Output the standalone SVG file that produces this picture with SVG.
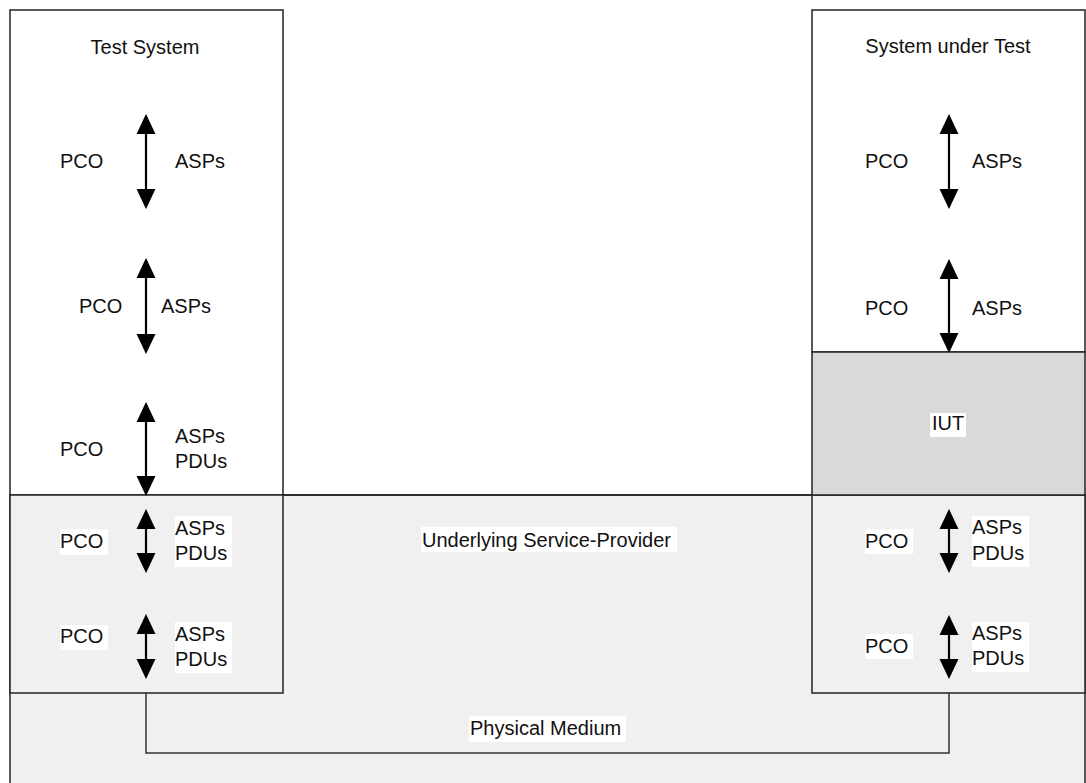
<svg xmlns="http://www.w3.org/2000/svg" width="1086" height="783" viewBox="0 0 1086 783">
<style>
.box{stroke:#222;stroke-width:1.5}
.t{font-family:"Liberation Sans",Arial,sans-serif;font-size:20px;fill:#111}
.m{text-anchor:middle}
.bg{fill:#fff}
.arr{stroke:#000;stroke-width:2.2;fill:none;marker-start:url(#ah);marker-end:url(#ah)}
.con{stroke:#333;stroke-width:1.5;fill:none}
</style>
<defs>
<marker id="ah" markerUnits="userSpaceOnUse" markerWidth="20" markerHeight="20" viewBox="0 0 18 17" refX="8" refY="8.5" orient="auto-start-reverse">
<path d="M0,0 L18,8.5 L0,17 z" fill="#000"/>
</marker>
</defs>
<rect width="1086" height="783" fill="#fff"/>
<g id="physical-medium">
<rect class="box" x="10" y="495" width="1075" height="300" fill="#f0f0f0"/>
<rect class="bg" x="469" y="716" width="157" height="26"/>
<text class="t" x="470" y="735">Physical Medium</text>
</g>
<g id="underlying-service-provider">
<line class="box" x1="283" y1="495" x2="812" y2="495"/>
<rect class="bg" x="421" y="527" width="256" height="25"/>
<text class="t" x="422" y="547">Underlying Service-Provider</text>
</g>
<g id="test-system">
<rect class="box" x="10" y="10" width="273" height="485" fill="#fff"/>
<rect class="box" x="10" y="495" width="273" height="198" fill="#f0f0f0"/>
<text class="t m" x="145" y="54">Test System</text>
<line class="arr" x1="146" y1="125" x2="146" y2="198"/>
<text class="t" x="60" y="168">PCO</text>
<text class="t" x="175" y="168">ASPs</text>
<line class="arr" x1="146" y1="269" x2="146" y2="343"/>
<text class="t" x="79" y="313">PCO</text>
<text class="t" x="161" y="313">ASPs</text>
<line class="arr" x1="146" y1="413" x2="146" y2="485"/>
<text class="t" x="60" y="456">PCO</text>
<text class="t" x="175" y="443">ASPs</text>
<text class="t" x="175" y="468">PDUs</text>
<line class="arr" x1="146" y1="520" x2="146" y2="562"/>
<rect class="bg" x="60" y="529" width="48" height="26"/>
<text class="t" x="60" y="548">PCO</text>
<rect class="bg" x="175" y="516" width="57" height="51"/>
<text class="t" x="175" y="535">ASPs</text>
<text class="t" x="175" y="560">PDUs</text>
<line class="arr" x1="146" y1="625" x2="146" y2="668"/>
<rect class="bg" x="60" y="625" width="48" height="25"/>
<text class="t" x="60" y="643">PCO</text>
<rect class="bg" x="175" y="622" width="57" height="51"/>
<text class="t" x="175" y="641">ASPs</text>
<text class="t" x="175" y="666">PDUs</text>
</g>
<g id="system-under-test">
<rect class="box" x="812" y="10" width="273" height="342" fill="#fff"/>
<rect class="box" x="812" y="495" width="273" height="198" fill="#f0f0f0"/>
<text class="t m" x="948" y="53">System under Test</text>
<line class="arr" x1="949" y1="125" x2="949" y2="198"/>
<text class="t" x="865" y="168">PCO</text>
<text class="t" x="972" y="168">ASPs</text>
<line class="arr" x1="949" y1="270" x2="949" y2="342"/>
<text class="t" x="865" y="315">PCO</text>
<text class="t" x="972" y="315">ASPs</text>
<line class="arr" x1="949" y1="520" x2="949" y2="562"/>
<rect class="bg" x="865" y="529" width="48" height="25"/>
<text class="t" x="865" y="548">PCO</text>
<rect class="bg" x="972" y="516" width="57" height="51"/>
<text class="t" x="972" y="534">ASPs</text>
<text class="t" x="972" y="560">PDUs</text>
<line class="arr" x1="949" y1="626" x2="949" y2="668"/>
<rect class="bg" x="865" y="634" width="48" height="25"/>
<text class="t" x="865" y="653">PCO</text>
<rect class="bg" x="972" y="622" width="57" height="50"/>
<text class="t" x="972" y="640">ASPs</text>
<text class="t" x="972" y="665">PDUs</text>
</g>
<g id="iut">
<rect class="box" x="812" y="352" width="273" height="143" fill="#d9d9d9"/>
<rect class="bg" x="930" y="413" width="36" height="24"/>
<text class="t m" x="948" y="430">IUT</text>
</g>
<g id="connectors">
<polyline class="con" points="146,693 146,753 949,753 949,693"/>
</g>
</svg>
